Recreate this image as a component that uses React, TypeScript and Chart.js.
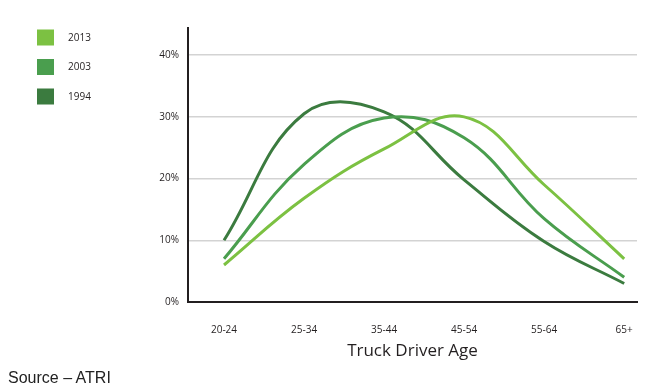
import React, { useEffect, useRef } from "react";
import { Chart, registerables } from "chart.js";

Chart.register(...registerables);

const categories = ["20-24", "25-34", "35-44", "45-54", "55-64", "65+"];
const seriesNames = ["2013", "2003", "1994"];
const values2013 = [6, 16.8, 24.8, 30, 19, 7];
const values2003 = [7, 22.3, 29.8, 26.6, 13.5, 4];
const values1994 = [10, 30.5, 30.8, 19.8, 9.8, 3];
const yTicks = [0, 10, 20, 30, 40];
const colors = ["#7cc142", "#4a9e4e", "#3b7b3f"];

const legendPlugin = {
  id: "sideLegend",
  afterDraw(chart: any) {
    const ctx = chart.ctx;
    ctx.save();
    chart.data.datasets.forEach((ds: any, i: number) => {
      const y = 29.5 + i * 29.5;
      ctx.fillStyle = ds.borderColor;
      ctx.fillRect(37, y, 17, 16);
      ctx.fillStyle = "#231f20";
      ctx.font = "10px 'Open Sans'";
      ctx.textBaseline = "middle";
      ctx.textAlign = "left";
      ctx.fillText(ds.label, 68, y + 8.5);
    });
    ctx.restore();
  },
};

export default function App() {
  const ref = useRef<HTMLCanvasElement>(null);
  useEffect(() => {
    document.body.style.margin = "0";
    const series = [values2013, values2003, values1994];
    const chart = new Chart(ref.current!, {
      type: "line",
      data: {
        datasets: series.map((vals, i) => ({
          label: seriesNames[i],
          data: vals.map((v, j) => ({ x: j, y: v })),
          borderColor: colors[i],
          backgroundColor: colors[i],
          borderWidth: 3,
          pointRadius: 0,
          tension: 0.4,
          fill: false,
        })),
      },
      options: {
        responsive: false,
        animation: false,
        layout: { padding: { left: 0, right: 12, top: 28, bottom: 0 } },
        plugins: { legend: { display: false }, tooltip: { enabled: false } },
        scales: {
          x: {
            type: "linear",
            min: -0.45,
            max: 5.16,
            afterBuildTicks: (axis: any) => {
              axis.ticks = categories.map((_, i) => ({ value: i }));
            },
            afterFit: (axis: any) => {
              axis.height = 86;
            },
            grid: { display: false },
            border: { display: true, color: "#231f20", width: 2 },
            ticks: {
              padding: 14,
              color: "#231f20",
              font: { family: "'Open Sans'", size: 10 },
              callback: (v: any) => categories[v] ?? "",
              maxRotation: 0,
              autoSkip: false,
            },
            title: {
              display: true,
              text: "Truck Driver Age",
              color: "#231f20",
              font: { family: "'Open Sans'", size: 17 },
              padding: { top: 0, bottom: 27 },
            },
          },
          y: {
            min: 0,
            max: 44.4,
            afterBuildTicks: (axis: any) => {
              axis.ticks = yTicks.map((v) => ({ value: v }));
            },
            afterFit: (axis: any) => {
              axis.width = 188;
            },
            grid: {
              drawTicks: false,
              color: (c: any) => (c.tick && c.tick.value === 0 ? "rgba(0,0,0,0)" : "#d3d3d3"),
              lineWidth: 1.5,
            },
            border: { display: true, color: "#231f20", width: 2 },
            ticks: {
              padding: 9,
              color: "#231f20",
              font: { family: "'Open Sans'", size: 10 },
              callback: (v: any) => v + "%",
            },
          },
        },
      },
      plugins: [legendPlugin],
    });
    return () => chart.destroy();
  }, []);
  return (
    <div style={{ position: "relative", width: 649, height: 388 }}>
      <canvas ref={ref} width={649} height={388} style={{ display: "block" }} />
      <div
        style={{
          position: "absolute",
          left: 8,
          top: 368,
          fontFamily: "'Liberation Sans', Arial, sans-serif",
          fontSize: 16,
          lineHeight: "19px",
          color: "#222",
        }}
      >
        Source – ATRI
      </div>
    </div>
  );
}
